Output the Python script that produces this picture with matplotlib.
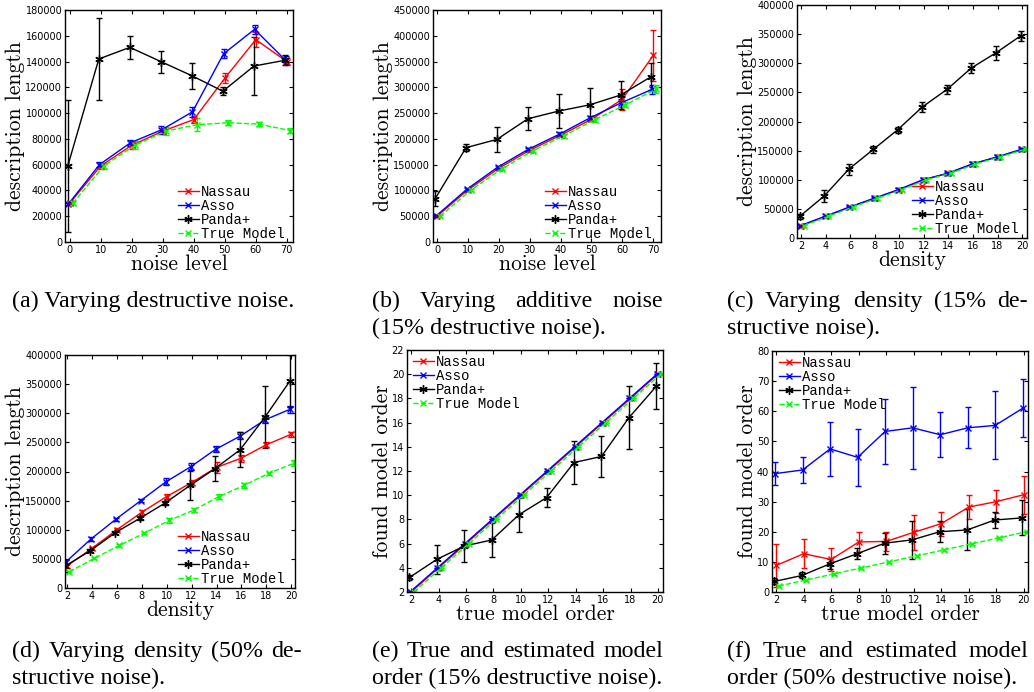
import numpy as np
import matplotlib
matplotlib.use("Agg")
import matplotlib.pyplot as plt
from matplotlib.lines import Line2D

W, H = 1034, 692

# (a) varying destructive noise
noise = [0, 10, 20, 30, 40, 50, 60, 70]
a_nassau = [30000, 59000, 75000, 86000, 95000, 127000, 157000, 140000]
a_nassau_err = [1500, 2000, 2500, 2500, 3000, 4000, 6000, 3000]
a_asso = [29500, 60000, 77000, 87000, 101000, 146000, 165000, 141000]
a_asso_err = [1000, 2000, 2500, 3000, 4000, 3500, 3500, 3000]
a_panda = [59000, 142000, 151000, 140000, 129000, 117000, 136500, 141000]
a_panda_err = [51000, 31500, 9000, 8500, 10000, 3000, 22500, 4000]
a_true = [30000, 59000, 75000, 86000, 91000, 92500, 91500, 86500]
a_true_err = [1500, 2000, 3000, 3000, 5000, 2000, 1500, 2000]

# (b) varying additive noise
b_nassau = [50000, 101000, 143000, 178000, 207000, 238000, 277000, 362000]
b_nassau_err = [1500, 2000, 3000, 3000, 3000, 4000, 20000, 49000]
b_asso = [50000, 102000, 145000, 180000, 209000, 241000, 270000, 296000]
b_asso_err = [1500, 2500, 3000, 3000, 4000, 4000, 8000, 8000]
b_panda = [84000, 183000, 199000, 239000, 254000, 266000, 285000, 321000]
b_panda_err = [15000, 7000, 25000, 22000, 33000, 32000, 27000, 27000]
b_true = [50000, 101000, 142000, 177000, 206000, 237000, 266000, 297000]
b_true_err = [1500, 2500, 3000, 3000, 4000, 5000, 5000, 8000]

# (c) varying density, 15% destructive noise
density = [2, 4, 6, 8, 10, 12, 14, 16, 18, 20]
c_nassau = [21000, 37000, 53000, 68000, 83000, 100000, 111000, 127000, 139000, 152000]
c_nassau_err = [1500, 1500, 2000, 2000, 2500, 3000, 3000, 3000, 4000, 3000]
c_asso = [21000, 37000, 53000, 68000, 83000, 100000, 111000, 127000, 139000, 152000]
c_asso_err = [1500, 1500, 2000, 2000, 2500, 3000, 3000, 3000, 4000, 3000]
c_panda = [37000, 72000, 118000, 152000, 186000, 225000, 255000, 292000, 318000, 347000]
c_panda_err = [5000, 10000, 9000, 6000, 5000, 9000, 7000, 8000, 12000, 8000]
c_true = [21000, 37000, 53000, 68000, 83000, 100000, 111000, 127000, 139000, 152000]
c_true_err = [1500, 1500, 2000, 2000, 2500, 3000, 3000, 3000, 4000, 3000]

# (d) varying density, 50% destructive noise
d_nassau = [38000, 68000, 100000, 130000, 157000, 181000, 207000, 223000, 246000, 264000]
d_nassau_err = [3000, 3000, 3000, 4000, 4000, 4000, 10000, 6000, 4000, 4000]
d_asso = [45000, 84000, 118000, 150000, 182000, 208000, 238000, 261000, 289000, 307000]
d_asso_err = [3000, 3000, 3000, 3000, 6000, 6000, 5000, 6000, 6000, 6000]
d_panda = [38000, 64000, 95000, 120000, 146000, 176000, 205000, 237000, 293000, 355000]
d_panda_err = [10000, 3000, 3000, 3000, 4000, 25000, 21000, 30000, 53000, 45000]
d_true = [28000, 51000, 73000, 94000, 116000, 134000, 157000, 176000, 197000, 214000]
d_true_err = [2000, 2000, 2000, 2000, 4000, 4000, 4000, 5000, 3000, 5000]

# (e) model order, 15% destructive noise
order = [2, 4, 6, 8, 10, 12, 14, 16, 18, 20]
e_nassau = [2, 4, 6, 8, 10, 12, 14, 16, 18, 20]
e_nassau_err = [0] * 10
e_asso = [2, 4, 6, 8, 10, 12, 14, 16, 18, 20]
e_asso_err = [0] * 10
e_panda = [3.2, 4.7, 5.8, 6.3, 8.4, 9.8, 12.7, 13.2, 16.4, 19.0]
e_panda_err = [0.2, 1.2, 1.3, 1.4, 1.4, 0.8, 1.8, 1.7, 2.6, 1.9]
e_true = [2, 4, 6, 8, 10, 12, 14, 16, 18, 20]
e_true_err = [0] * 10

# (f) model order, 50% destructive noise
f_nassau = [8.8, 12.7, 10.8, 16.6, 16.8, 19.8, 22.7, 28.2, 30.0, 32.3]
f_nassau_err = [7.0, 4.8, 3.8, 3.3, 3.2, 5.7, 4.0, 4.0, 3.8, 6.3]
f_asso = [39.3, 40.5, 47.5, 44.7, 53.3, 54.5, 52.2, 54.5, 55.3, 61.0]
f_asso_err = [3.8, 4.3, 9.0, 9.5, 10.7, 13.7, 7.5, 6.8, 11.3, 9.7]
f_panda = [3.5, 5.5, 9.3, 12.7, 16.2, 17.3, 20.0, 20.6, 23.9, 24.6]
f_panda_err = [1.0, 1.0, 1.5, 1.8, 3.5, 6.3, 3.5, 6.8, 2.7, 5.8]
f_true = [2, 4, 6, 8, 10, 12, 14, 16, 18, 20]
f_true_err = [0.3] * 10

labels = ["Nassau", "Asso", "Panda+", "True Model"]
# each caption: list of lines; all but the last line are justified
captions = [
    ["(a) Varying destructive noise."],
    ["(b) Varying additive noise", "(15% destructive noise)."],
    ["(c) Varying density (15% de-", "structive noise)."],
    ["(d) Varying density (50% de-", "structive noise)."],
    ["(e) True and estimated model", "order (15% destructive noise)."],
    ["(f) True and estimated model", "order (50% destructive noise)."],
]

colors = ["#ff0000", "#0000ff", "#000000", "#00ff00"]
markers = ["x", "x", (6, 2, 0), "x"]
msizes = [4.5, 4.5, 6, 4.5]
styles = ["-", "-", "-", "--"]
shift = [0.0, -0.04, -0.06, 0.1]  # small x jitter, fraction of step

fig = plt.figure(figsize=(W / 100, H / 100), dpi=100)


def make_axes(l, r, t, b):
    return fig.add_axes([l / W, 1 - b / H, (r - l) / W, (b - t) / H])


def panel(box, x, series, xlim, ylim, xticks, yticks, xlabel, ylabel, leg_xy, leg_loc):
    ax = make_axes(*box)
    step = x[1] - x[0]
    handles = []
    for i, (y, e) in enumerate(series):
        xs = np.array(x) + shift[i] * step
        ax.errorbar(xs, y, yerr=e, color=colors[i], ls=styles[i], lw=1,
                    marker=markers[i], ms=msizes[i], mew=1,
                    capsize=2.5, elinewidth=1)
        handles.append(Line2D([], [], color=colors[i], ls=styles[i], lw=1,
                              marker=markers[i], ms=msizes[i], mew=1))
    ax.set_xlim(*xlim)
    ax.set_ylim(*ylim)
    ax.set_xticks(xticks)
    ax.set_yticks(yticks)
    ax.set_xticklabels([str(v) for v in xticks])
    ax.set_yticklabels([str(v) for v in yticks])
    ax.tick_params(direction="in", top=True, right=True, length=3, width=0.8,
                   labelsize=7, pad=2)
    for s in ax.spines.values():
        s.set_linewidth(1)
    ax.set_xlabel(xlabel, family="cmr10", fontsize=15.5, labelpad=0)
    ax.set_ylabel(ylabel, family="cmr10", fontsize=15.5, labelpad=0)
    ax.legend(handles, labels, loc=leg_loc,
              bbox_to_anchor=(leg_xy[0] / W, 1 - leg_xy[1] / H),
              bbox_transform=fig.transFigure, frameon=False,
              prop={"family": "Liberation Mono", "size": 10},
              handlelength=1.5, handletextpad=0.15, labelspacing=0,
              borderpad=0, borderaxespad=0)
    return ax


panel((65, 293, 10, 242), noise,
      [(a_nassau, a_nassau_err), (a_asso, a_asso_err), (a_panda, a_panda_err), (a_true, a_true_err)],
      (-1.5, 72), (0, 180000), noise, list(range(0, 180001, 20000)),
      "noise level", "description length", (178, 241), "lower left")
panel((433, 661, 10, 242), noise,
      [(b_nassau, b_nassau_err), (b_asso, b_asso_err), (b_panda, b_panda_err), (b_true, b_true_err)],
      (-1.3, 72.5), (0, 450000), noise, list(range(0, 450001, 50000)),
      "noise level", "description length", (545, 241), "lower left")
panel((797, 1027, 5, 238), density,
      [(c_nassau, c_nassau_err), (c_asso, c_asso_err), (c_panda, c_panda_err), (c_true, c_true_err)],
      (1.67, 20.4), (0, 400000), density, list(range(0, 400001, 50000)),
      "density", "description length", (912, 236), "lower left")
panel((65, 295, 355, 588), density,
      [(d_nassau, d_nassau_err), (d_asso, d_asso_err), (d_panda, d_panda_err), (d_true, d_true_err)],
      (1.84, 20.3), (0, 400000), density, list(range(0, 400001, 50000)),
      "density", "description length", (178, 586), "lower left")
panel((407, 663, 350, 592), order,
      [(e_nassau, e_nassau_err), (e_asso, e_asso_err), (e_panda, e_panda_err), (e_true, e_true_err)],
      (1.7, 20.37), (2, 22), order, list(range(2, 23, 2)),
      "true model order", "found model order", (413, 355), "upper left")
panel((772, 1028, 351, 592), order,
      [(f_nassau, f_nassau_err), (f_asso, f_asso_err), (f_panda, f_panda_err), (f_true, f_true_err)],
      (1.7, 20.3), (0, 80), order, list(range(0, 81, 10)),
      "true model order", "found model order", (779, 356), "upper left")

# captions, justified like the LaTeX subcaptions
renderer = fig.canvas.get_renderer()
cap_x = [12, 372, 727, 12, 372, 727]
cap_base = [307, 307, 307, 657, 657, 657]
col_w = [290, 291, 301, 290, 291, 301]
line_gap = 27
cap_font = dict(family="Liberation Serif", fontsize=17.3)
for k, lines in enumerate(captions):
    for j, line in enumerate(lines):
        yb = 1 - (cap_base[k] + j * line_gap) / H
        if j == len(lines) - 1:
            fig.text(cap_x[k] / W, yb, line, va="baseline", ha="left", **cap_font)
            continue
        words = line.split(" ")
        objs = [fig.text(0, yb, w_, va="baseline", ha="left", **cap_font) for w_ in words]
        widths = [o.get_window_extent(renderer).width for o in objs]
        gap = (col_w[k] - sum(widths)) / (len(words) - 1)
        xpos = cap_x[k]
        for o, wd in zip(objs, widths):
            o.set_x(xpos / W)
            xpos += wd + gap

fig.savefig("out.png", dpi=100)
